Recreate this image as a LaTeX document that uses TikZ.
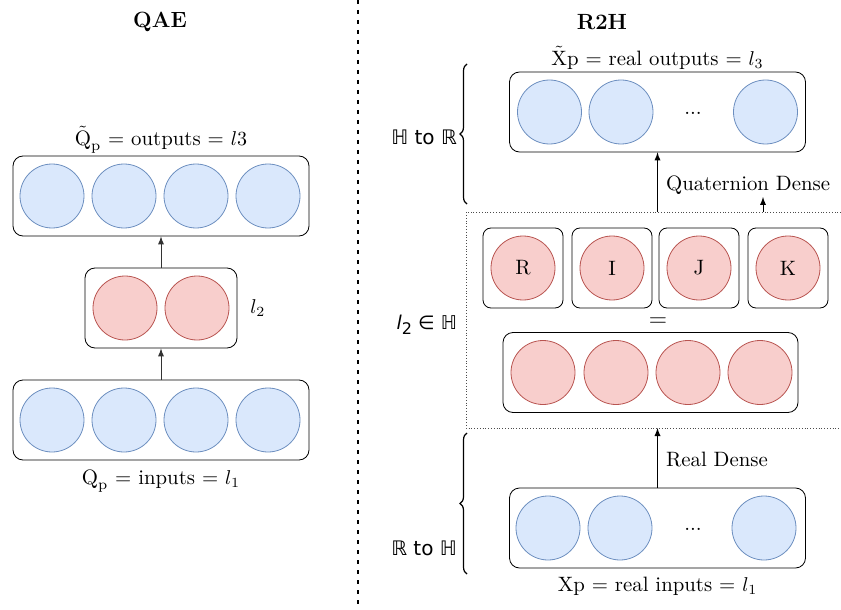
\documentclass[tikz,border=0pt]{standalone}
\usepackage{amsmath,amssymb}
\usepackage{fontspec}
\newfontfamily\dvsans{DejaVu Sans}
\usetikzlibrary{positioning, decorations.pathreplacing}
\definecolor{bluefill}{HTML}{DAE8FC}
\definecolor{blueline}{HTML}{6C8EBF}
\definecolor{redfill}{HTML}{F8CECC}
\definecolor{redline}{HTML}{B85450}

\begin{document}
\begin{tikzpicture}[x=0.5pt, y=-0.5pt, >=latex,
  every node/.style={font=\fontsize{10.4}{12.5}\selectfont},
  bneur/.style={draw=blueline, fill=bluefill, circle, minimum size=32pt, inner sep=0pt},
  rneur/.style={draw=redline, fill=redfill, circle, minimum size=32pt, inner sep=0pt},
  layer/.style={draw, rounded corners=5pt, minimum width=#1, minimum height=40pt},
  ttl/.style={font=\fontsize{11}{13}\selectfont\bfseries},
  brc/.style={decorate, decoration={brace, amplitude=3.5pt}, semithick}]
\useasboundingbox (0,0) rectangle (841,610);

% QAE
\node[ttl] (qae) at (160,22) {QAE};
\node[layer=148pt] (qout) at (161,196) {};
\foreach \x [count=\i] in {52,124,196,268}
  \node[bneur] (qo\i) at (\x,196) {};
\node[layer=76pt] (qmid) at (161,308) {};
\foreach \x [count=\i] in {125,197}
  \node[rneur] (qm\i) at (\x,308) {};
\node[layer=148pt] (qin) at (161,420) {};
\foreach \x [count=\i] in {52,124,196,268}
  \node[bneur] (qi\i) at (\x,420) {};
\node[above=-2.5pt of qout] (qoutlbl) {$\tilde{\text{Q}}_{\text{p}}$ = outputs = $l3$};
\node[below=1pt of qin] (qinlbl) {$\text{Q}_{\text{p}}$ = inputs = $l_1$};
\node[right=3pt of qmid] (ql2) {$l_2$};
\draw[->, black!80] (qin) -- (qmid);
\draw[->, black!80] (qmid) -- (qout);

\coordinate (divtop) at (358,0);
\coordinate (divbot) at (358,610);
\draw[line width=0.75pt, dash pattern=on 2pt off 3pt] (divtop) -- (divbot);

% R2H
\node[ttl] (r2h) at (602,22) {R2H};
\node[layer=148pt] (rout) at (657.5,112) {};
\foreach \x [count=\i] in {549.5,621,765.5}
  \node[bneur] (ro\i) at (\x,112) {};
\node (rodots) at (693,113) {...};
\node[above=-2.5pt of rout] (routlbl) {$\tilde{\text{X}}$p = real outputs = $l_3$};

\coordinate (zone1) at (841,212);
\coordinate (zone2) at (466,212);
\coordinate (zone3) at (466,428);
\coordinate (zone4) at (841,428);
\draw[densely dotted, black!70] (zone1) -- (zone2) -- (zone3) -- (zone4);

\foreach \x/\q [count=\i] in {523/R,612/I,699/J,788/K} {
  \node[layer=40pt, rounded corners=4pt] (qb\i) at (\x,268) {};
  \node[rneur] (qc\i) at (\x,268) {\q};
}
\node[font=\large] (eq) at (658,322) {$=$};
\node[layer=147.5pt] (rmid) at (650.5,372.5) {};
\foreach \x [count=\i] in {543,616,688,760}
  \node[rneur] (rm\i) at (\x,372.5) {};
\node[anchor=east] (rl2) at (464,325) {\dvsans\fontsize{9.5}{11}\selectfont{\itshape l}\raisebox{-0.45ex}{\footnotesize 2} ∈ ℍ};

\node[layer=148pt] (rin) at (657.5,528) {};
\foreach \x [count=\i] in {548,620,764}
  \node[bneur] (ri\i) at (\x,528) {};
\node (ridots) at (693,529) {...};
\node[below=1pt of rin] (rinlbl) {Xp = real inputs = $l_1$};

\draw[->] (rout.south |- zone2) -- (rout.south);
\node[anchor=west] (qdense) at (659,185) {Quaternion Dense};
\coordinate (tick) at (763,212);
\draw[->] (tick) -- ++(0,-15);
\draw[->] (rin.north) -- (rin.north |- zone3);
\node[anchor=west] (rdense) at (659,460) {Real Dense};

\coordinate (b1a) at (467,204);
\coordinate (b1b) at (467,64);
\draw[brc] (b1a) -- (b1b);
\node[anchor=east, font=\dvsans] (htor) at (464,137) {ℍ to ℝ};
\coordinate (b2a) at (467,574);
\coordinate (b2b) at (467,433);
\draw[brc] (b2a) -- (b2b);
\node[anchor=east, font=\dvsans] (rtoh) at (464,548) {ℝ to ℍ};
\end{tikzpicture}
\end{document}
